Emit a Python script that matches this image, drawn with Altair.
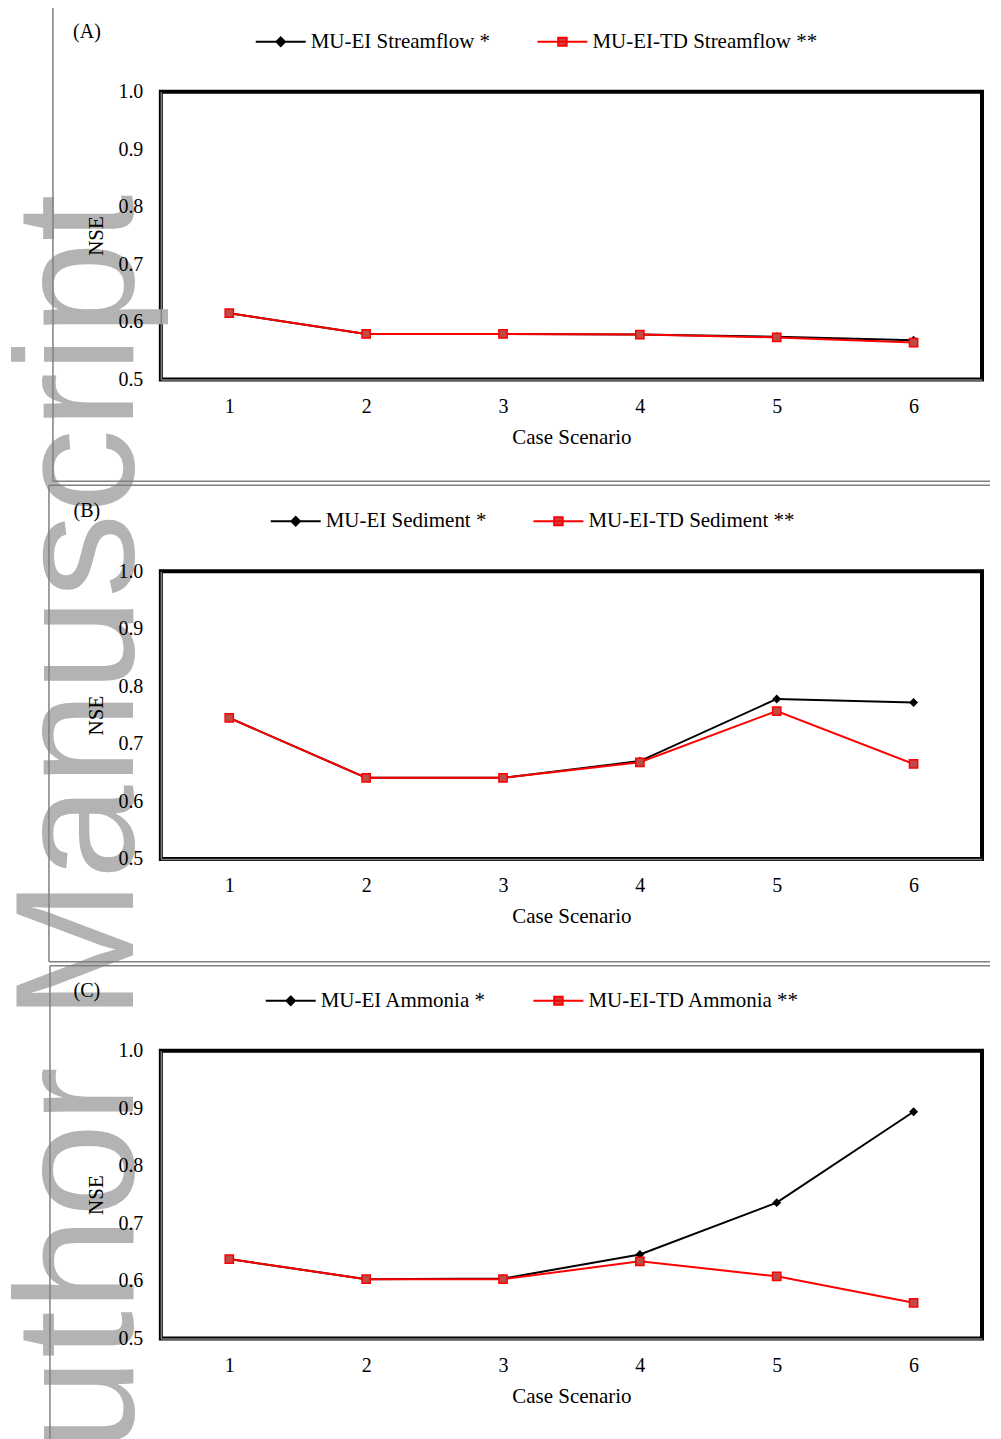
import altair as alt
import pandas as pd

# ---------------- data ----------------
cases = ["1", "2", "3", "4", "5", "6"]

a_names = ["MU-EI Streamflow *", "MU-EI-TD Streamflow **"]
a_ei = [0.615, 0.579, 0.579, 0.578, 0.574, 0.568]
a_td = [0.615, 0.579, 0.579, 0.578, 0.573, 0.564]

b_names = ["MU-EI Sediment *", "MU-EI-TD Sediment **"]
b_ei = [0.745, 0.641, 0.641, 0.670, 0.778, 0.772]
b_td = [0.745, 0.641, 0.641, 0.668, 0.757, 0.665]

c_names = ["MU-EI Ammonia *", "MU-EI-TD Ammonia **"]
c_ei = [0.638, 0.603, 0.604, 0.646, 0.736, 0.894]
c_td = [0.638, 0.603, 0.603, 0.634, 0.608, 0.562]

panel_tags = ["(A)", "(B)", "(C)"]
y_ticks = [0.5, 0.6, 0.7, 0.8, 0.9, 1.0]
x_title = "Case Scenario"
y_title = "NSE"
watermark = "Author Manuscript"

# ---------------- style ----------------
SERIF = "Liberation Serif"
W, H = 822, 288
RED = "#ff0000"
RED_FILL = "#bd4b48"
FRAME = "#808080"
FRAME_RIGHT = 830
DIAMOND_PATH = "M-1,0L1,0M0,-0.17L0.17,0L0,0.17L-0.17,0Z"
SQUARE_PATH = "M-1,0L1,0M-0.17,-0.16L0.17,-0.16L0.17,0.16L-0.17,0.16Z"


def panel(tag, names, ei, td, legend_x, frame_left, frame_top, frame_bottom,
          with_watermark=False):
    df = pd.DataFrame({
        "case": cases * 2,
        "nse": ei + td,
        "series": [names[0]] * len(cases) + [names[1]] * len(cases),
    })
    x = alt.X("case:O", scale=alt.Scale(padding=0.5), sort=cases,
              axis=alt.Axis(title=x_title, labelAngle=0, labelFont=SERIF,
                            labelFontSize=20, labelColor="black",
                            titleFont=SERIF, titleFontSize=21,
                            titleFontWeight="normal", titleColor="black",
                            ticks=False, tickSize=0, labelPadding=17,
                            titlePadding=10, domainColor=FRAME,
                            domainWidth=1.5, grid=False, zindex=1))
    y = alt.Y("nse:Q", scale=alt.Scale(domain=[0.5, 1.0], nice=False, zero=False),
              axis=alt.Axis(values=y_ticks, format=".1f", title=y_title,
                            labelFont=SERIF, labelFontSize=20, labelColor="black",
                            titleFont=SERIF, titleFontSize=21,
                            titleFontWeight="normal", titleColor="black",
                            ticks=False, tickSize=0, labelPadding=18,
                            titlePadding=11, domainColor=FRAME, domainWidth=1.5,
                            grid=False, zindex=1))
    base = alt.Chart(df).encode(x=x, y=y)
    ei_f = base.transform_filter(alt.datum.series == names[0])
    td_f = base.transform_filter(alt.datum.series == names[1])
    ei_line = ei_f.mark_line(color="black", strokeWidth=2)
    ei_pts = ei_f.mark_point(shape="diamond", filled=True, size=80,
                             color="black", opacity=1)
    td_line = td_f.mark_line(color=RED, strokeWidth=2)
    td_pts = td_f.mark_point(shape="square", filled=True, size=68,
                             fill=RED_FILL, stroke=RED, strokeWidth=1.5,
                             opacity=1)

    leg = dict(title=None, orient="none", legendX=legend_x, legendY=-76,
               direction="horizontal", columns=2, symbolSize=2500,
               symbolStrokeWidth=2, labelFont=SERIF, labelFontSize=21,
               labelColor="black", labelOffset=4, columnPadding=43,
               padding=0, labelLimit=400)
    legend_layer = alt.Chart(df).transform_filter("false").mark_point(
        filled=True, size=2500, strokeWidth=2, opacity=1
    ).encode(
        fill=alt.Fill("series:N", scale=alt.Scale(domain=names, range=["#000000", RED_FILL]),
                      legend=alt.Legend(**leg)),
        stroke=alt.Stroke("series:N", scale=alt.Scale(domain=names, range=["#000000", RED]),
                          legend=alt.Legend(**leg)),
        shape=alt.Shape("series:N", scale=alt.Scale(domain=names, range=[DIAMOND_PATH, SQUARE_PATH]),
                        legend=alt.Legend(**leg)),
    )

    one = pd.DataFrame({"k": [0]})
    frame_layers = [
        alt.Chart(one).mark_rule(color=FRAME, strokeWidth=1.5).encode(
            x=alt.value(frame_left), x2=alt.value(FRAME_RIGHT), y=alt.value(frame_top)),
        alt.Chart(one).mark_rule(color=FRAME, strokeWidth=1.5).encode(
            x=alt.value(frame_left), y=alt.value(frame_top),
            y2=alt.value(frame_bottom if frame_bottom is not None else 400)),
    ]
    if frame_bottom is not None:
        frame_layers.append(
            alt.Chart(one).mark_rule(color=FRAME, strokeWidth=1.5).encode(
                x=alt.value(frame_left), x2=alt.value(FRAME_RIGHT), y=alt.value(frame_bottom)))

    tag_layer = alt.Chart(pd.DataFrame({"tag": [tag]})).mark_text(
        font=SERIF, fontSize=20, color="black", align="center", baseline="middle"
    ).encode(text="tag:N", x=alt.value(-74), y=alt.value(-60))

    layers = []
    if with_watermark:
        layers.append(
            alt.Chart(pd.DataFrame({"t": [watermark]})).mark_text(
                angle=270, align="right", baseline="alphabetic", fontSize=169,
                font="Liberation Sans", color="#b3b3b3"
            ).encode(text="t:N", x=alt.value(-28), y=alt.value(103)))
    layers += frame_layers
    layers += [tag_layer, legend_layer, ei_line, ei_pts, td_line, td_pts]
    return alt.layer(*layers).properties(width=W, height=H)


pa = panel(panel_tags[0], a_names, a_ei, a_td, 94, -108, -85, 390, with_watermark=True)
pb = panel(panel_tags[1], b_names, b_ei, b_td, 109, -112, -86, 391)
pc = panel(panel_tags[2], c_names, c_ei, c_td, 104, -111, -85, None)

chart = alt.vconcat(pa, pb, pc, spacing=192, bounds="flush").resolve_scale(
    fill="independent", stroke="independent", shape="independent"
).resolve_legend(
    fill="independent", stroke="independent", shape="independent"
).properties(
    padding={"left": -12, "top": -5, "right": 0, "bottom": 0},
    background="white",
).configure_view(stroke="black", strokeWidth=4)

chart.save("out.html", embed_options={"renderer": "svg", "actions": False})
